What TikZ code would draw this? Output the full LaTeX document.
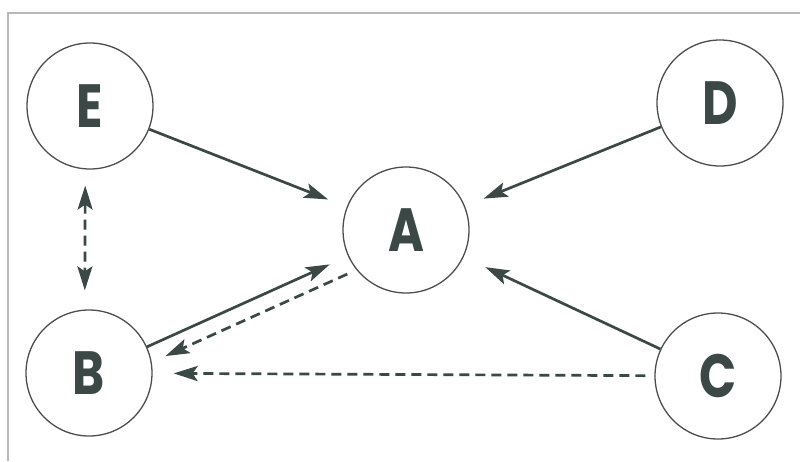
\documentclass[tikz,border=0pt]{standalone}
\usepackage{fontspec}
\setmainfont{Poppins}
\usetikzlibrary{arrows.meta}
\definecolor{ink}{HTML}{3B4846}
\definecolor{ring}{HTML}{4A4F4E}
\definecolor{frame}{HTML}{B8B8B8}
\newcommand{\narrowlabel}[1]{\scalebox{0.8}[1]{#1}}
\tikzset{
  agent/.style={circle,draw=ring,line width=1.3pt,minimum size=126pt,inner sep=0pt,
    text=ink,font=\fontsize{61}{61}\selectfont\bfseries},
  tipstyle/.style={},
  link/.style={draw=ink,line width=2.7pt,-{Stealth[length=24pt,width=15pt,inset=5pt]}},
  dlink/.style={link,dash pattern=on 10pt off 6pt},
  blink/.style={draw=ink,line width=2.7pt,dash pattern=on 10pt off 6pt,
    {Stealth[length=24pt,width=15pt,inset=5pt]}-{Stealth[length=24pt,width=15pt,inset=5pt]}}
}
\begin{document}
\begin{tikzpicture}[x=1pt,y=-1pt]
\useasboundingbox (0,0) rectangle (800,461);
\fill[white] (0,0) rectangle (800,461);
\coordinate (f1) at (8,461);
\coordinate (f2) at (8,13);
\coordinate (f3) at (800,13);
\draw[frame,line width=1.2pt] (f1) -- (f2) -- (f3);
\node[agent] (E) at (90,106) {\narrowlabel{E}};
\node[agent] (D) at (720,103) {\narrowlabel{D}};
\node[agent] (A) at (406,230) {\narrowlabel{A}};
\node[agent] (B) at (89,373) {\narrowlabel{B}};
\node[agent] (C) at (718,376) {\narrowlabel{C}};
\draw[link,shorten >=20pt] (E) -- (A);
\draw[link,shorten >=20pt] (D) -- (A);
\draw[link,shorten >=24pt] (C) -- (A);
\draw[link,shorten >=20pt] (B) -- (A);
\begin{scope}[transform canvas={xshift=6.6pt,yshift=-14.6pt}]
\draw[dlink,shorten <=8pt,shorten >=13pt] (A) -- (B);
\end{scope}
\draw[dlink,shorten <=9pt,shorten >=21pt] (C) -- (B);
\begin{scope}[transform canvas={xshift=-4.5pt}]
\draw[blink,shorten <=16pt,shorten >=19pt] (E) -- (B);
\end{scope}
\end{tikzpicture}
\end{document}
